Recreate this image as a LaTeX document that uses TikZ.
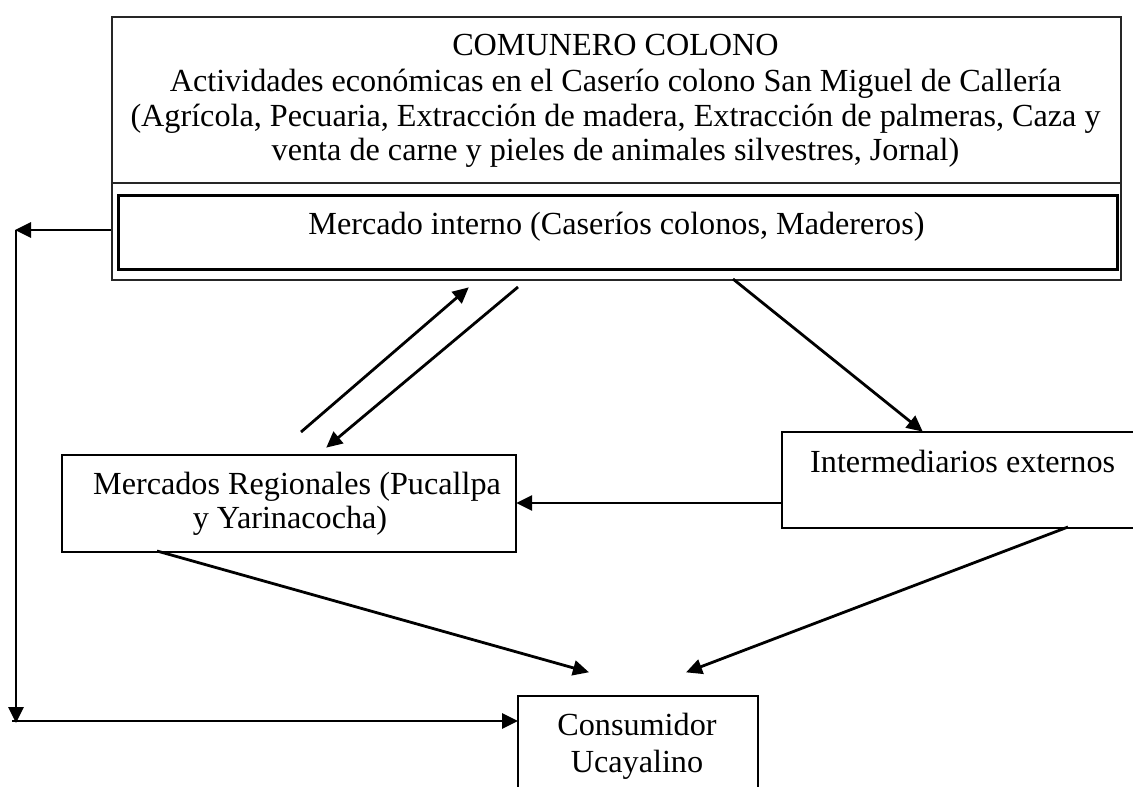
\documentclass[tikz,border=0pt]{standalone}
\usepackage{fontspec}
\setmainfont{Liberation Serif}
\usetikzlibrary{arrows.meta}
\begin{document}
\begin{tikzpicture}[x=1pt,y=-1pt,
  every node/.style={font=\fontsize{32.2}{35}\selectfont, inner sep=0pt},
  lbl/.style={anchor=base},
  arr/.style={line width=2.8pt, -{Triangle[length=16pt,width=15pt]}, shorten >=-1pt}]
\useasboundingbox (0,0) rectangle (1133,787);
\clip (0,0) rectangle (1133,787);
% top box
\node[draw=black!85, line width=2.2pt, minimum width=1009pt, minimum height=263pt, anchor=north west] (top) at (111,16) {};
\coordinate (divL) at (111,183);
\coordinate (divR) at (1120,183);
\draw[line width=2.2pt, black!85] (divL) -- (divR);
\node[lbl] (t1) at (615.5,55) {COMUNERO COLONO};
\node[lbl] (t2) at (615.5,91) {Actividades económicas en el Caserío colono San Miguel de Callería};
\node[lbl] (t3) at (615.5,126) {(Agrícola, Pecuaria, Extracción de madera, Extracción de palmeras, Caza y};
\node[lbl] (t4) at (615.5,160) {venta de carne y pieles de animales silvestres, Jornal)};
% inner box
\node[draw, line width=3pt, minimum width=999pt, minimum height=74pt, anchor=north west] (mi) at (117,194) {};
\node[lbl] (mit) at (616.5,234) {Mercado interno (Caseríos colonos, Madereros)};
% Mercados regionales
\node[draw, line width=2.2pt, minimum width=454pt, minimum height=97pt, anchor=north west] (mr) at (61,454) {};
\node[lbl] (mr1) at (297,494) {Mercados Regionales (Pucallpa};
\node[lbl] (mr2) at (290,528) {y Yarinacocha)};
% Intermediarios
\node[draw, line width=2.2pt, minimum width=380pt, minimum height=96pt, anchor=north west] (ie) at (781,431) {};
\node[anchor=base west] (iet) at (810,472) {Intermediarios externos};
% Consumidor
\node[draw, line width=2.2pt, minimum width=240pt, minimum height=130pt, anchor=north west] (cu) at (517,695) {};
\node[lbl] (cu1) at (637,735) {Consumidor};
\node[lbl] (cu2) at (637,772) {Ucayalino};
% connectors
\coordinate (c1) at (16,230);
\coordinate (c2) at (16,721);
\draw[arr] (top.west |- c1) -- (c1);
\draw[arr] (c1) -- ([yshift=-1pt]c2);
\draw[arr] ([xshift=-4pt]c2) -- (cu.west |- c2);
\coordinate (u1) at (301,432);
\coordinate (u2) at (468,288);
\draw[arr] (u1) -- (u2);
\coordinate (d1) at (518,287);
\coordinate (d2) at (327,447);
\draw[arr] (d1) -- (d2);
\coordinate (s3) at (733,279);
\coordinate (e3) at (922,431);
\draw[arr] (s3) -- (e3);
\coordinate (ie4) at (781,503);
\draw[arr] (ie4) -- (mr.east |- ie4);
\coordinate (s5) at (157,551);
\coordinate (e5) at (588,672);
\draw[arr] (s5) -- (e5);
\coordinate (s6) at (1068,527);
\coordinate (e6) at (687,672);
\draw[arr] (s6) -- (e6);
\end{tikzpicture}
\end{document}
